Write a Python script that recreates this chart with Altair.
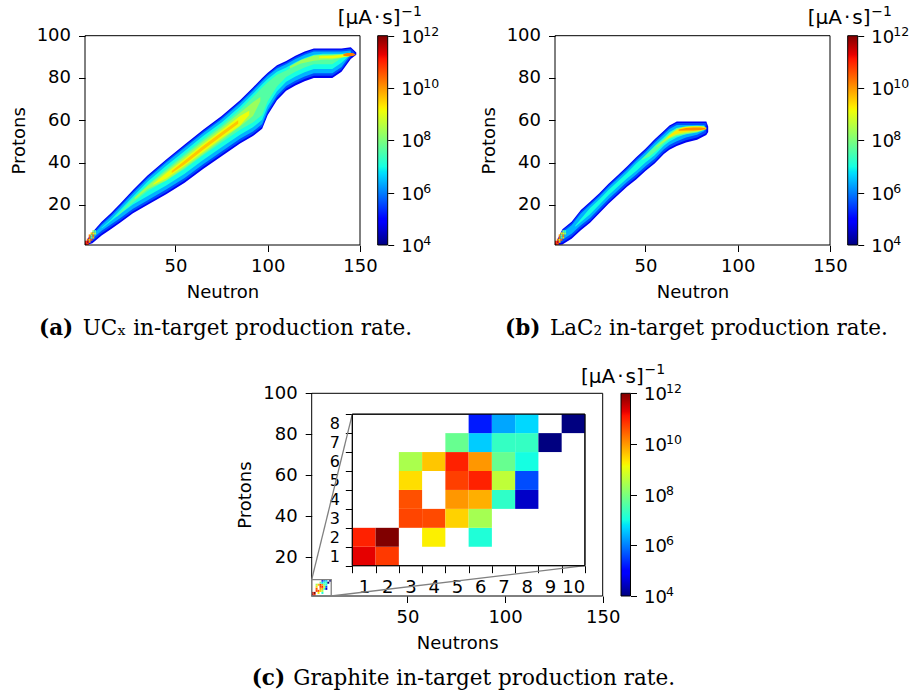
import numpy as np
import pandas as pd
import altair as alt

W, H = 916, 696

# ---------------------------------------------------------------- data
# log10 of the in-target production rate per (neutron, proton) cell / band level

# Graphite target (panel c): cells
GR_N = [1, 2, 1, 2, 4, 6, 3, 4, 5, 6, 3, 5, 6, 7, 8, 3, 5, 6, 7, 8, 3, 4, 5, 6, 7, 8, 5, 6, 7, 8, 9, 6, 7, 8, 10]
GR_Z = [1, 1, 2, 2, 2, 2, 3, 3, 3, 3, 4, 4, 4, 4, 4, 5, 5, 5, 5, 5, 6, 6, 6, 6, 6, 6, 7, 7, 7, 7, 7, 8, 8, 8, 8]
GR_V = [11.3, 10.8, 11.0, 12.0, 9.25, 7.1, 10.7, 10.65, 9.5, 8.4, 10.6, 10.0, 9.8, 7.25, 4.5,
        9.4, 10.75, 11.0, 8.65, 5.6, 8.45, 9.6, 11.0, 10.0, 7.8, 7.0, 7.8, 6.6, 7.3, 7.3, 4.0,
        5.2, 6.3, 6.7, 4.0]

# light fragments near the origin in panels a and b
ORIG_A_N = [1, 2, 1, 2, 3, 2, 3, 4, 3, 4, 5, 3, 4, 5, 4, 5, 6, 5, 6]
ORIG_A_Z = [1, 1, 2, 2, 2, 3, 3, 3, 4, 4, 4, 5, 5, 5, 6, 6, 6, 7, 7]
ORIG_A_V = [11.3, 10.8, 11.0, 11.5, 10.0, 10.5, 9.5, 10.6, 10.7, 7.5, 9.8, 10.2, 8.0, 10.4, 9.6, 9.3, 8.5, 8.0, 7.5]
ORIG_B_N = [1, 2, 1, 2, 3, 2, 3, 4, 3, 4, 5, 3, 4, 5, 4, 5, 6, 5, 6]
ORIG_B_Z = [1, 1, 2, 2, 2, 3, 3, 3, 4, 4, 4, 5, 5, 5, 6, 6, 6, 7, 7]
ORIG_B_V = [11.2, 10.6, 10.9, 11.3, 9.8, 10.3, 9.2, 10.4, 10.5, 7.4, 9.5, 10.0, 7.8, 10.1, 9.3, 9.0, 8.2, 7.7, 7.2]

# UCx target (panel a): nested iso-rate bands (level, neutron, lower Z, upper Z)
UC_L0_V = 4.8
UC_L0_N = [2, 5, 10, 15, 20, 27, 35, 45, 55, 65, 75, 85, 92, 97, 100, 105, 110, 115, 120, 125, 130, 135, 140, 145, 148]
UC_L0_HI = [3.4, 7, 12, 16, 20.5, 27, 34, 41.5, 48.5, 55.5, 62, 69.5, 75.5, 80, 82.5, 86, 88, 90.5, 92.5, 94, 94, 94, 94, 94.5, 92]
UC_L0_LO = [1, 1.8, 5.5, 8.5, 11.5, 16, 20, 25, 30.5, 37, 43, 49, 52.5, 56, 62.5, 69.5, 74, 76.5, 78.5, 80, 80, 80, 83, 89, 91]

UC_L1_V = 5.6
UC_L1_N = [3, 5, 10, 15, 20, 27, 35, 45, 55, 65, 75, 85, 92, 97, 100, 105, 110, 115, 120, 125, 130, 135, 140, 145, 147]
UC_L1_HI = [3.9, 6.3, 11.3, 15.3, 19.8, 26.3, 33.3, 40.8, 47.8, 54.8, 61.3, 68.8, 74.8, 79.3, 81.8, 85.3, 87.3, 89.8, 91.8, 93.3, 93.3, 93.3, 93.3, 93.8, 92.2]
UC_L1_LO = [2.3, 2.8, 6.5, 9.5, 12.5, 17, 21, 26, 31.5, 38, 44, 50, 53.5, 57, 63.5, 70.5, 75, 77.5, 79.5, 81, 81, 81, 84, 90, 91.2]

UC_L2_V = 6.4
UC_L2_N = [5, 10, 15, 20, 27, 35, 45, 55, 65, 75, 85, 92, 97, 100, 105, 110, 115, 120, 125, 130, 135, 140, 145]
UC_L2_HI = [5.5, 10.5, 14.5, 19, 25.5, 32.5, 40, 47, 54, 60.5, 68, 74, 78.5, 81, 84.5, 86.5, 89, 91, 92.5, 92.5, 92.5, 92.5, 93]
UC_L2_LO = [4, 7.7, 10.7, 13.7, 18.2, 22.2, 27.2, 32.7, 39.2, 45.2, 51.2, 54.7, 58.2, 64.7, 71.7, 76.2, 78.7, 80.7, 82.2, 82.2, 82.2, 85.2, 91.2]

UC_L3_V = 7.0
UC_L3_N = [10, 15, 20, 27, 35, 45, 55, 65, 75, 85, 92, 97, 100, 105, 110, 115, 120, 125, 130, 135, 140, 145]
UC_L3_HI = [9.2, 13, 17.5, 24, 31, 38.5, 45.5, 52.5, 59, 66.5, 72.5, 77, 79.5, 83, 85, 87.5, 89.5, 91, 91.5, 91.5, 91.5, 92]
UC_L3_LO = [8.8, 12.2, 15.7, 20.2, 24.2, 29.2, 34.7, 41.2, 47.2, 53.2, 56.7, 60.2, 66.7, 73.7, 78.2, 80.7, 82.7, 84.2, 84.2, 84.2, 87.2, 91.2]

UC_L4_V = 7.6
UC_L4_N = [18, 27, 35, 45, 55, 65, 75, 85, 92, 97, 100, 105, 110, 115, 120, 125, 130, 135, 140, 145]
UC_L4_HI = [14.7, 23, 29.5, 37, 44, 51, 57.5, 65, 71, 75.5, 78, 81.5, 83.5, 86, 88.5, 90.2, 90.8, 91, 91.2, 91.8]
UC_L4_LO = [14.3, 21, 26.5, 31.5, 37, 43.5, 49.5, 55.5, 59, 62.5, 69, 76, 80.5, 83, 85, 86.5, 86.5, 86.5, 89.5, 91.2]

UC_L5_V = 8.3
UC_L5_N = [28, 35, 45, 55, 65, 75, 85, 92, 96]
UC_L5_HI = [23.5, 29, 36, 43, 50, 56.5, 63.5, 68.5, 71]
UC_L5_LO = [22.5, 27.5, 31.5, 37.5, 44, 50.5, 57, 62, 69]

UC_L5B_V = 8.3
UC_L5B_N = [112, 118, 125, 130, 135, 140, 145, 147]
UC_L5B_HI = [85.5, 88.5, 90.6, 91, 91, 91.2, 91.6, 91.4]
UC_L5B_LO = [84.5, 86.8, 88.2, 88.6, 88.8, 89.6, 90.4, 91]

UC_L6_V = 9.1
UC_L6_N = [38, 45, 55, 65, 75, 85, 90]
UC_L6_HI = [30, 35, 41.8, 48.8, 55.3, 62, 64.5]
UC_L6_LO = [29.5, 32.5, 38.5, 45, 51.5, 57.5, 62.5]

UC_L6B_V = 9.1
UC_L6B_N = [128, 135, 140, 144, 147]
UC_L6B_HI = [90.3, 90.5, 91, 91.4, 91.2]
UC_L6B_LO = [89.3, 89.3, 89.8, 90.3, 91]

UC_L7_V = 9.6
UC_L7_N = [48, 55, 65, 75, 84]
UC_L7_HI = [36, 40.8, 47.8, 54.3, 60]
UC_L7_LO = [35, 39.2, 46, 52.5, 58.4]

UC_L8_V = 10.2
UC_L8_N = [141, 143, 146, 147.5]
UC_L8_HI = [91.3, 91.8, 91.8, 91.2]
UC_L8_LO = [90.5, 90.3, 90.4, 90.9]

# LaC2 target (panel b)
LA_L0_V = 4.8
LA_L0_N = [2, 5, 10, 15, 20, 25, 30, 35, 40, 45, 50, 55, 60, 63, 67, 72, 78, 83, 84]
LA_L0_HI = [3, 8.5, 12, 17.5, 21.5, 25.5, 30, 34, 38.1, 42.5, 46.5, 51, 55, 57.5, 59.4, 59.4, 59.4, 59.4, 57]
LA_L0_LO = [1, 1.2, 4, 8, 11.5, 16, 20.5, 24.5, 28.5, 32, 36, 39.5, 44, 46, 47.8, 49.5, 50.8, 53, 54.5]

LA_L1_V = 5.6
LA_L1_N = [3, 5, 10, 15, 20, 25, 30, 35, 40, 45, 50, 55, 60, 63, 67, 72, 78, 83]
LA_L1_HI = [4.1, 7.8, 11.3, 16.8, 20.8, 24.8, 29.3, 33.3, 37.4, 41.8, 45.8, 50.3, 54.3, 56.8, 58.7, 58.7, 58.7, 58.7]
LA_L1_LO = [2.1, 2.2, 5, 9, 12.5, 17, 21.5, 25.5, 29.5, 33, 37, 40.5, 45, 47, 48.8, 50.5, 51.8, 54]

LA_L2_V = 6.4
LA_L2_N = [6, 10, 15, 20, 25, 30, 35, 40, 45, 50, 55, 60, 63, 67, 72, 78, 82]
LA_L2_HI = [7.6, 10.4, 15.9, 19.9, 23.9, 28.4, 32.4, 36.5, 40.9, 44.9, 49.4, 53.4, 55.9, 57.8, 57.8, 57.8, 57.8]
LA_L2_LO = [4.1, 6.3, 10.3, 13.8, 18.3, 22.8, 26.8, 30.8, 34.3, 38.3, 41.8, 46.3, 48.3, 50.1, 51.8, 53.1, 54.9]

LA_L3_V = 7.0
LA_L3_N = [12, 20, 25, 30, 35, 40, 45, 50, 55, 60, 63, 67, 72, 78, 82]
LA_L3_HI = [10.2, 18.5, 22.5, 27, 31, 35.1, 39.5, 43.5, 48, 52, 54.5, 56.4, 56.8, 57, 57]
LA_L3_LO = [9.6, 15.5, 20, 24.5, 28.5, 32.5, 36, 40, 43.5, 48, 50, 51.8, 53.5, 54.8, 56]

LA_L4_V = 7.7
LA_L4_N = [48, 52, 56, 60, 63, 67, 72, 78, 82]
LA_L4_HI = [41.6, 45, 48.4, 51.2, 53.8, 56.4, 57.2, 57.4, 57.2]
LA_L4_LO = [41.2, 42.8, 45.6, 49, 51, 52.4, 53.4, 54.2, 55.4]

LA_L5_V = 8.6
LA_L5_N = [56, 60, 63, 67, 72, 78, 82]
LA_L5_HI = [47.6, 50.6, 53.2, 55.8, 56.9, 57.2, 57]
LA_L5_LO = [47.2, 49.8, 51.6, 53, 53.9, 54.6, 55.6]

LA_L6_V = 9.3
LA_L6_N = [62, 66, 70, 75, 80, 83]
LA_L6_HI = [52, 54.8, 56.6, 57, 57, 56.6]
LA_L6_LO = [51.4, 53.4, 54.2, 54.8, 55.3, 55.8]

LA_L7_V = 10.1
LA_L7_N = [68, 72, 76, 80, 82.5]
LA_L7_HI = [55.6, 56.4, 56.6, 56.6, 56.2]
LA_L7_LO = [55, 55.2, 55.2, 55.4, 55.8]

UC_LEVELS = [
    (UC_L0_V, UC_L0_N, UC_L0_LO, UC_L0_HI), (UC_L1_V, UC_L1_N, UC_L1_LO, UC_L1_HI),
    (UC_L2_V, UC_L2_N, UC_L2_LO, UC_L2_HI), (UC_L3_V, UC_L3_N, UC_L3_LO, UC_L3_HI),
    (UC_L4_V, UC_L4_N, UC_L4_LO, UC_L4_HI), (UC_L5_V, UC_L5_N, UC_L5_LO, UC_L5_HI),
    (UC_L5B_V, UC_L5B_N, UC_L5B_LO, UC_L5B_HI), (UC_L6_V, UC_L6_N, UC_L6_LO, UC_L6_HI),
    (UC_L6B_V, UC_L6B_N, UC_L6B_LO, UC_L6B_HI), (UC_L7_V, UC_L7_N, UC_L7_LO, UC_L7_HI),
    (UC_L8_V, UC_L8_N, UC_L8_LO, UC_L8_HI),
]
LA_LEVELS = [
    (LA_L0_V, LA_L0_N, LA_L0_LO, LA_L0_HI), (LA_L1_V, LA_L1_N, LA_L1_LO, LA_L1_HI),
    (LA_L2_V, LA_L2_N, LA_L2_LO, LA_L2_HI), (LA_L3_V, LA_L3_N, LA_L3_LO, LA_L3_HI),
    (LA_L4_V, LA_L4_N, LA_L4_LO, LA_L4_HI), (LA_L5_V, LA_L5_N, LA_L5_LO, LA_L5_HI),
    (LA_L6_V, LA_L6_N, LA_L6_LO, LA_L6_HI), (LA_L7_V, LA_L7_N, LA_L7_LO, LA_L7_HI),
]

CB_TICKS = [4, 6, 8, 10, 12]
CB_EXPONENTS = ["4", "6", "8", "10", "12"]
MAIN_X_TICKS = [50, 100, 150]
MAIN_Y_TICKS = [20, 40, 60, 80, 100]
CAPTION_TAGS = ["(a)", "(b)", "(c)"]
CAPTION_TEXTS = ["UC\u2093 in-target production rate.",
                 "LaC\u2082 in-target production rate.",
                 "Graphite in-target production rate."]
X_TITLES = ["Neutron", "Neutron", "Neutrons"]
CB_TITLE_BASE = "[\u03bcA\u200a\u00b7\u200as]"
CB_TITLE_SUP = "\u22121"

# ---------------------------------------------------------------- colour map (jet)
JET_T = [0, 0.11, 0.125, 0.34, 0.35, 0.375, 0.64, 0.65, 0.66, 0.89, 0.91, 1.0]


def jet(t):
    r = np.interp(t, [0, 0.35, 0.66, 0.89, 1], [0, 0, 1, 1, 0.5])
    g = np.interp(t, [0, 0.125, 0.375, 0.64, 0.91, 1], [0, 0, 1, 1, 0, 0])
    b = np.interp(t, [0, 0.11, 0.34, 0.65, 1], [0.5, 1, 1, 0, 0])
    return "#%02x%02x%02x" % tuple(int(round(c * 255)) for c in (r, g, b))


VMIN, VMAX = 4, 12
COLOR_SCALE = alt.Scale(domain=[VMIN + (VMAX - VMIN) * t for t in JET_T],
                        range=[jet(t) for t in JET_T], interpolate="rgb", clamp=True)
GRADIENT = alt.Gradient(gradient="linear", x1=0, y1=1, x2=0, y2=0,
                        stops=[alt.GradientStop(offset=t, color=jet(t)) for t in JET_T])

FONT = "DejaVu Sans"
AX = dict(grid=False, domain=False, tickColor="black", tickWidth=1, labelColor="black",
          titleColor="black", labelFlush=False, labelOverlap=False, labelFont=FONT,
          titleFont=FONT, titleFontSize=18, titleFontWeight="normal")

ONE = pd.DataFrame({"k": [0]})


def color_enc():
    return alt.Color("v:Q", scale=COLOR_SCALE, legend=None)


def main_panel(x0, x1, y0, y1, xtitle, levels=None, cells=None):
    xs = alt.Scale(domain=[1, 150], range=[x0, x1], nice=False, zero=False)
    ys = alt.Scale(domain=[1, 100], range=[y0, y1], nice=False, zero=False)
    xa = alt.Axis(orient="bottom", offset=y0 - H, values=MAIN_X_TICKS, title=xtitle,
                  tickSize=6.5, labelPadding=6, titlePadding=8, labelFontSize=18, **AX)
    ya = alt.Axis(orient="left", offset=-x0, values=MAIN_Y_TICKS, title="Protons",
                  tickSize=6.5, labelPadding=8, titlePadding=8, labelFontSize=18, **AX)
    layers = []
    if levels:
        for v, n, lo, hi in levels:
            df = pd.DataFrame({"N": n, "lo": lo, "hi": hi, "v": v})
            layers.append(alt.Chart(df).mark_area(interpolate="linear").encode(
                x=alt.X("N:Q", scale=xs, axis=xa),
                y=alt.Y("lo:Q", scale=ys, axis=ya),
                y2="hi:Q", color=color_enc()))
    if cells is not None:
        n, z, vv = cells
        df = pd.DataFrame({"N": n, "Z": z, "v": vv})
        layers.append(alt.Chart(df).mark_rect().transform_calculate(
            N1="datum.N + 1", Z1="datum.Z + 1").encode(
            x=alt.X("N:Q", scale=xs, axis=xa), x2="N1:Q",
            y=alt.Y("Z:Q", scale=ys, axis=ya), y2="Z1:Q", color=color_enc()))
    frame = alt.Chart(ONE).mark_rect(fillOpacity=0, stroke="black", strokeWidth=1).encode(
        x=alt.X(datum=1, scale=xs, axis=xa), x2=alt.X2(datum=150),
        y=alt.Y(datum=1, scale=ys, axis=ya), y2=alt.Y2(datum=100))
    layers.append(frame)
    return xs, ys, xa, ya, layers


def colorbar(cx0, cx1, y0, y1, title_baseline):
    xs = alt.Scale(domain=[0, 1], range=[cx0, cx1], nice=False, zero=False)
    ys = alt.Scale(domain=[VMIN, VMAX], range=[y0, y1], nice=False, zero=False)
    ya = alt.Axis(orient="right", offset=cx1 - W, values=CB_TICKS, labelExpr="'10'",
                  tickSize=6, labelPadding=7, labelBaseline="middle", labelOffset=1.5,
                  labelFontSize=18, title=None, **AX)
    bar = alt.Chart(ONE).mark_rect(fill=GRADIENT, stroke="black", strokeWidth=1).encode(
        x=alt.X(datum=0, scale=xs, axis=None), x2=alt.X2(datum=1),
        y=alt.Y(datum=VMIN, scale=ys, axis=ya), y2=alt.Y2(datum=VMAX))
    exps = alt.Chart(pd.DataFrame({"v": CB_TICKS, "e": CB_EXPONENTS})).mark_text(
        font=FONT, fontSize=12.5, align="left", baseline="alphabetic", color="black").encode(
        text="e:N", x=alt.value(cx1 + 35.5),
        y=alt.Y("v:Q", scale=ys, axis=ya))
    tbase = alt.Chart(pd.DataFrame({"t": [CB_TITLE_BASE]})).mark_text(
        font=FONT, fontSize=20, align="left", baseline="alphabetic", color="black").encode(
        text="t:N", x=alt.value(cx0 - 40), y=alt.value(title_baseline))
    tsup = alt.Chart(pd.DataFrame({"t": [CB_TITLE_SUP]})).mark_text(
        font=FONT, fontSize=14, align="left", baseline="alphabetic", color="black").encode(
        text="t:N", x=alt.value(cx0 + 23.5), y=alt.value(title_baseline - 8.5))
    return alt.layer(bar, exps, tbase, tsup)


# ---------------------------------------------------------------- panel a
_, _, _, _, la = main_panel(85, 360, 245, 35.7, X_TITLES[0], UC_LEVELS, (ORIG_A_N, ORIG_A_Z, ORIG_A_V))
panel_a = alt.layer(*la)
cbar_a = colorbar(377.7, 387.7, 245, 35.7, 24)

# ---------------------------------------------------------------- panel b
_, _, _, _, lb = main_panel(555, 830, 245, 35.7, X_TITLES[1], LA_LEVELS, (ORIG_B_N, ORIG_B_Z, ORIG_B_V))
panel_b = alt.layer(*lb)
cbar_b = colorbar(847.7, 857.7, 245, 35.7, 24)

# ---------------------------------------------------------------- panel c
CX0, CX1, CY0, CY1 = 311.7, 602.7, 596, 393.3
xs_c, ys_c, xa_c, ya_c, lc = main_panel(CX0, CX1, CY0, CY1, X_TITLES[2], None, (GR_N, GR_Z, GR_V))

# inset placement, in the main panel's data units
IN_N0, IN_N1, IN_Z0, IN_Z1 = 21.8, 140.9, 15.8, 89.8
ZOOM_N0, ZOOM_N1, ZOOM_Z0, ZOOM_Z1 = 1, 11, 1, 9


def px_x(n):
    return CX0 + (n - 1) / 149 * (CX1 - CX0)


def px_y(z):
    return CY0 - (z - 1) / 99 * (CY0 - CY1)


zoom_box = alt.Chart(ONE).mark_rect(fillOpacity=0, stroke="#808080", strokeWidth=1.3).encode(
    x=alt.X(datum=ZOOM_N0, scale=xs_c, axis=xa_c), x2=alt.X2(datum=ZOOM_N1),
    y=alt.Y(datum=ZOOM_Z0, scale=ys_c, axis=ya_c), y2=alt.Y2(datum=ZOOM_Z1))
links = pd.DataFrame({"a": [ZOOM_N0, ZOOM_N1], "b": [ZOOM_Z1, ZOOM_Z0],
                      "a2": [IN_N0, IN_N1], "b2": [IN_Z1, IN_Z0]})
zoom_lines = alt.Chart(links).mark_rule(color="#808080", strokeWidth=1.3).encode(
    x=alt.X("a:Q", scale=xs_c, axis=xa_c), x2="a2:Q",
    y=alt.Y("b:Q", scale=ys_c, axis=ya_c), y2="b2:Q")
panel_c = alt.layer(*lc, zoom_box, zoom_lines)

ix0, ix1 = px_x(IN_N0), px_x(IN_N1)
iy0, iy1 = px_y(IN_Z0), px_y(IN_Z1)
cw, ch = (ix1 - ix0) / 10, (iy0 - iy1) / 8
xs_i = alt.Scale(domain=[0, 10], range=[ix0, ix1], nice=False, zero=False)
ys_i = alt.Scale(domain=[0, 8], range=[iy0, iy1], nice=False, zero=False)
xa_i = alt.Axis(orient="bottom", offset=iy0 - H, values=list(range(11)),
                labelExpr="datum.value < 10 ? format(datum.value + 1, 'd') : ''",
                labelOffset=cw / 2, tickSize=7, labelPadding=6, labelFontSize=18, title=None, **AX)
ya_i = alt.Axis(orient="left", offset=-ix0, values=list(range(9)),
                labelExpr="datum.value < 8 ? format(datum.value + 1, 'd') : ''",
                labelOffset=-ch / 2, tickSize=7, labelPadding=6, labelFontSize=16, title=None, **AX)
inset_bg = alt.Chart(ONE).mark_rect(fill="white", stroke="black", strokeWidth=1).encode(
    x=alt.X(datum=0, scale=xs_i, axis=xa_i), x2=alt.X2(datum=10),
    y=alt.Y(datum=0, scale=ys_i, axis=ya_i), y2=alt.Y2(datum=8))
inset_cells = alt.Chart(pd.DataFrame({"N": GR_N, "Z": GR_Z, "v": GR_V})).mark_rect().transform_calculate(
    x0="datum.N - 1", y0="datum.Z - 1").encode(
    x=alt.X("x0:Q", scale=xs_i, axis=xa_i), x2="N:Q",
    y=alt.Y("y0:Q", scale=ys_i, axis=ya_i), y2="Z:Q", color=color_enc())
inset_frame = alt.Chart(ONE).mark_rect(fillOpacity=0, stroke="black", strokeWidth=1).encode(
    x=alt.X(datum=0, scale=xs_i, axis=xa_i), x2=alt.X2(datum=10),
    y=alt.Y(datum=0, scale=ys_i, axis=ya_i), y2=alt.Y2(datum=8))
inset = alt.layer(inset_bg, inset_cells, inset_frame)

cbar_c = colorbar(621, 630.5, CY0, CY1, 382.5)

# ---------------------------------------------------------------- captions
SERIF = "DejaVu Serif"
cap_pos = [(39, 82.7, 335), (505, 550, 335), (251.7, 293.3, 685)]
captions = []
for tag, txt, (xt, xr, yb) in zip(CAPTION_TAGS, CAPTION_TEXTS, cap_pos):
    captions.append(alt.Chart(pd.DataFrame({"t": [tag]})).mark_text(
        font=SERIF, fontSize=21.5, fontWeight="bold", align="left", baseline="alphabetic",
        color="black").encode(text="t:N", x=alt.value(xt), y=alt.value(yb)))
    captions.append(alt.Chart(pd.DataFrame({"t": [txt]})).mark_text(
        font=SERIF, fontSize=21.5, align="left", baseline="alphabetic",
        color="black").encode(text="t:N", x=alt.value(xr), y=alt.value(yb)))

chart = alt.layer(
    panel_a, cbar_a, panel_b, cbar_b, panel_c, inset, cbar_c, *captions
).resolve_scale(x="independent", y="independent").properties(
    width=W, height=H, autosize=alt.AutoSizeParams(type="none"), padding=0,
    background="white"
).configure_view(strokeWidth=0)

chart.save("out.html", embed_options={"renderer": "svg", "actions": False})
